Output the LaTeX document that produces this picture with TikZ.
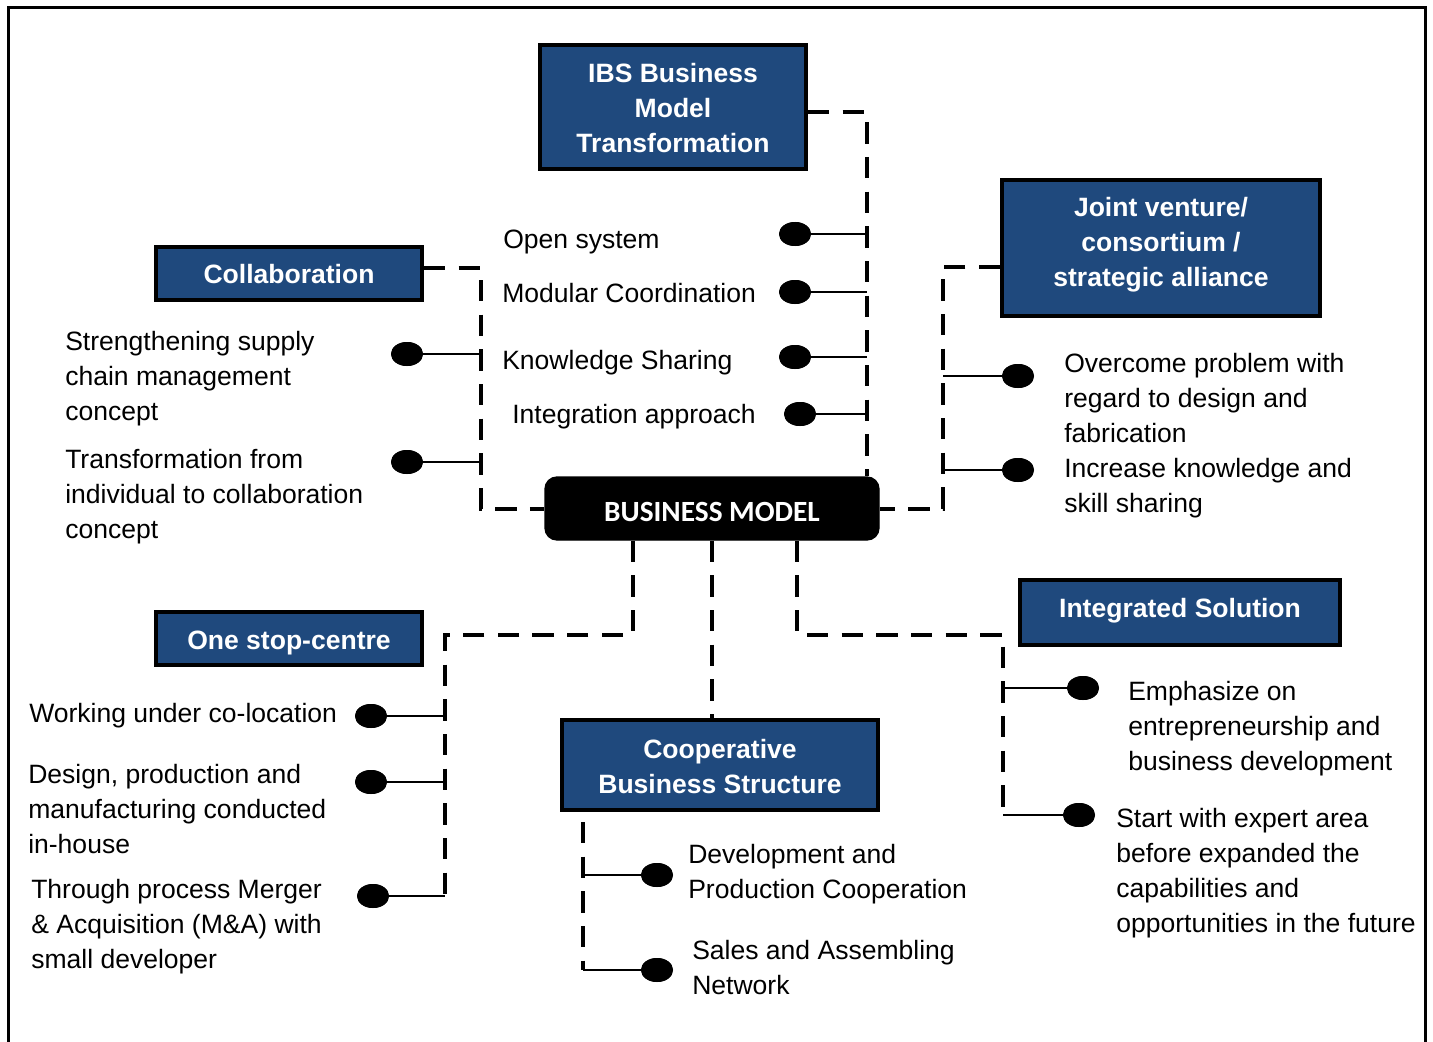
\documentclass[tikz,border=0pt]{standalone}
\usepackage{fontspec}
\setmainfont{Liberation Sans}
\newfontfamily\bmfont{Carlito}
\usetikzlibrary{shapes.geometric,calc}
\definecolor{boxblue}{HTML}{1F497D}
\newcommand\mystrut{\rule[-5.25pt]{0pt}{26.25pt}}
\tikzset{
  bluebox/.style={draw=black,line width=3pt,fill=boxblue,text=white,font=\fontsize{19.9}{26.25}\selectfont\bfseries,align=center,inner sep=0pt,
    execute at begin node=\mystrut, execute at end node=\mystrut},
  dl/.style={draw=black,line width=3pt,dash pattern=on 16pt off 10pt},
  thinl/.style={draw=black,line width=1.1pt},
  dot/.style={ellipse,fill=black,minimum width=24pt,minimum height=18pt,inner sep=0pt},
  txt/.style={anchor=west,align=left,inner sep=0pt,font=\fontsize{19.9}{26.25}\selectfont,
    execute at begin node=\mystrut, execute at end node=\mystrut}
}
\begin{document}
\begin{tikzpicture}[x=0.75pt,y=-0.75pt]
\useasboundingbox (0,0) rectangle (1433,1041);
% frame
\draw[line width=2.25pt] (8,1045) -- (8,8) -- (1425,8) -- (1425,1045);
% boxes
\node[bluebox,minimum width=199.5pt,minimum height=93pt] (ibs) at (673,107) {\mystrut IBS Business\\Model\\Transformation};
\node[bluebox,minimum width=199.5pt,minimum height=39.75pt] (col) at (289,273) {Collaboration};
\node[bluebox,minimum width=238.5pt,minimum height=102pt] (jv) at (1161,248) {\mystrut Joint venture/\\consortium /\\strategic alliance\rule[-15.75pt]{0pt}{15.75pt}};
\node[bluebox,minimum width=199.5pt,minimum height=39.75pt] (osc) at (289,638.5) {One stop-centre};
\node[bluebox,minimum width=240pt,minimum height=48.75pt] (is) at (1180,612.5) {Integrated Solution\rule[-14.25pt]{0pt}{14.25pt}};
\node[bluebox,minimum width=237pt,minimum height=67.5pt] (coop) at (720,765) {\mystrut Cooperative\\Business Structure};
\node[fill=black,draw=black,line width=1pt,rounded corners=9pt,minimum width=250.5pt,minimum height=47.25pt,text height=19.5pt,text depth=0pt,text=white,font=\bmfont\fontsize{22}{26}\selectfont\bfseries] (bm) at (712,508.5) {BUSINESS MODEL};
% vertical reference coordinates
\coordinate (vA) at (867,0);
\coordinate (vB) at (481,0);
\coordinate (vC) at (943,0);
\coordinate (vD) at (445,0);
\coordinate (vE) at (1003,0);
\coordinate (vF) at (583,0);
% dashed connectors
\draw[dl] ([yshift=-3.75pt]ibs.east) -| (bm.north -| vA);
\draw[dl] ([yshift=4pt]col.east) -| (bm.west -| vB) -- (bm.west);
\draw[dl] ([yshift=-14.25pt]jv.west) -| (bm.east -| vC) -- (bm.east);
\coordinate (eD) at (445,897);
\coordinate (eE) at (1003,820);
\coordinate (eF) at (583,970);
\draw[dl] ([xshift=-59.25pt]bm.south) -- ++(0,94) -| (eD);
\draw[dl] (bm.south) -- (bm.south |- coop.north);
\draw[dl] ([xshift=63.75pt]bm.south) -- ++(0,94) -| (eE);
\draw[dl] (coop.south -| vF) ++(0,10) -- (eF);
% dots and thin lines
\foreach \n/\x/\y/\v in {a1/795/234/vA,a2/795/292/vA,a3/795/357/vA,a4/800/414/vA,
  b1/407/354/vB,b2/407/462/vB,c1/1018/376/vC,c2/1018/470/vC,
  d1/371/716/vD,d2/371/782/vD,d3/373/896/vD,e1/1083/688/vE,e2/1079/815/vE,
  f1/657/875/vF,f2/657/970/vF}{
  \node[dot] (\n) at (\x,\y) {};
  \draw[thinl] (\n.center) -- (\n -| \v);
  \node[dot] at (\n) {};
}
% texts
\node[txt] (t1) at (503,237.5) {Open system};
\node[txt] (t2) at (502,291.5) {Modular Coordination};
\node[txt] (t3) at (502,358.5) {Knowledge Sharing};
\node[txt] (t4) at (512,412.5) {Integration approach};
\node[txt] (t5) at (65,374.5) {\mystrut Strengthening supply\\chain management\\concept};
\node[txt] (t6) at (65,492.5) {\mystrut Transformation from\\individual to collaboration\\concept};
\node[txt] (t7) at (1064,396.5) {\mystrut Overcome problem with\\regard to design and\\fabrication};
\node[txt] (t8) at (1064,484) {\mystrut Increase knowledge and\\skill sharing};
\node[txt] (t9) at (29,711.5) {Working under co-location};
\node[txt] (t10) at (28,807.5) {\mystrut Design, production and\\manufacturing conducted\\in-house};
\node[txt] (t11) at (31,922.5) {\mystrut Through process Merger\\\& Acquisition (M\&A) with\\small developer};
\node[txt] (t12) at (1128,724.5) {\mystrut Emphasize on\\entrepreneurship and\\business development};
\node[txt] (t13) at (1116,869) {\mystrut Start with expert area\\before expanded the\\capabilities and\\opportunities in the future};
\node[txt] (t14) at (688,870) {\mystrut Development and\\Production Cooperation};
\node[txt] (t15) at (692,966) {\mystrut Sales and Assembling\\Network};
\end{tikzpicture}
\end{document}
